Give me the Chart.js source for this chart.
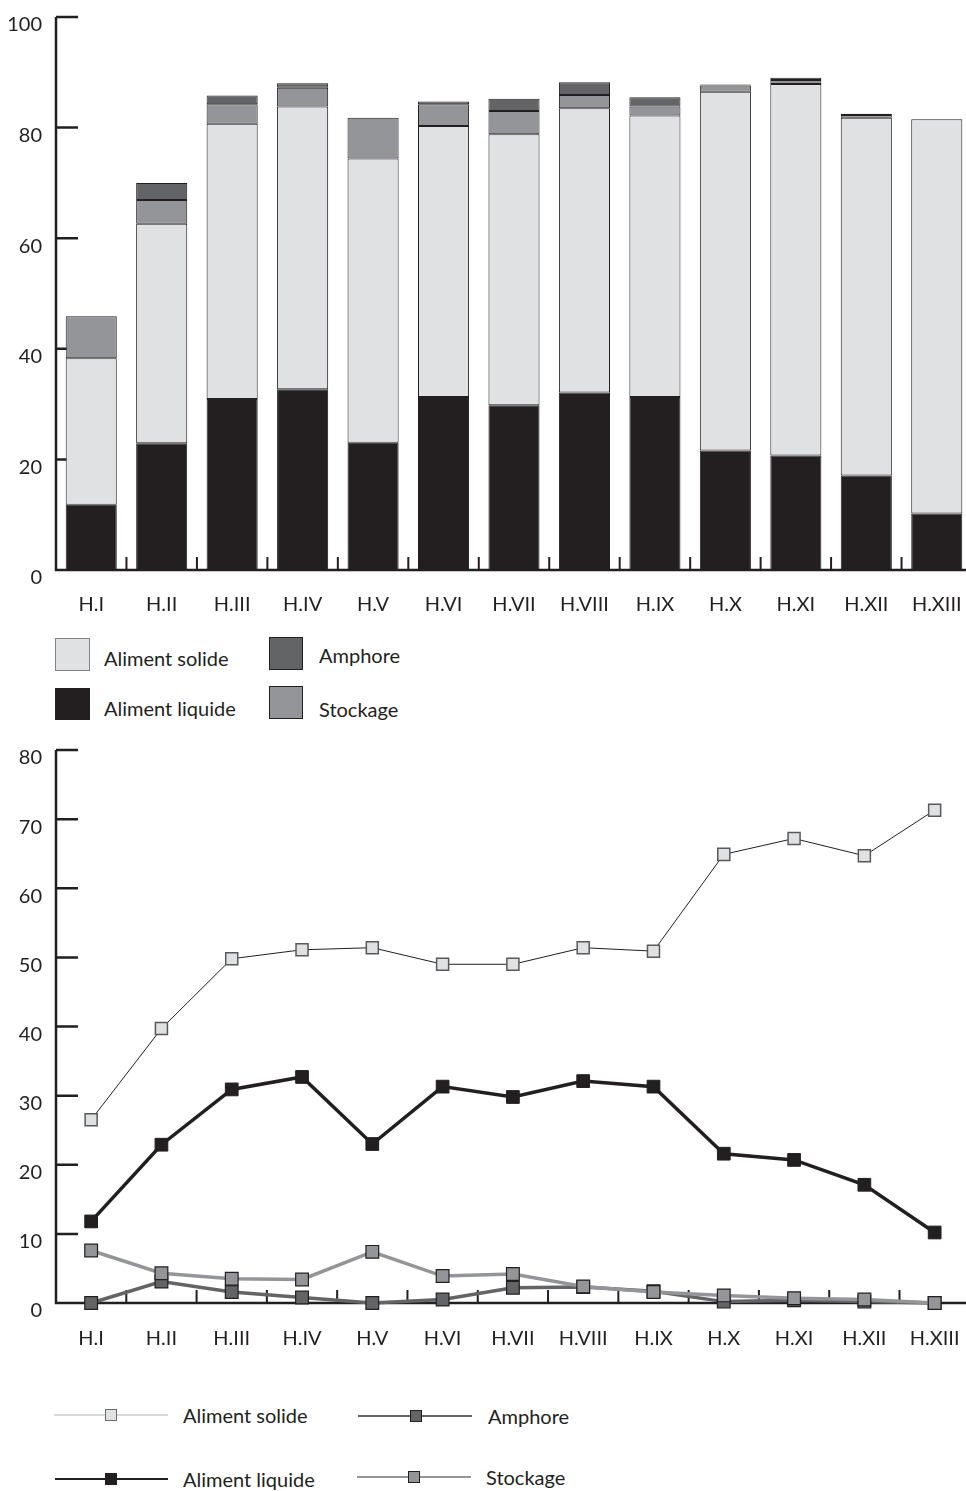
<!DOCTYPE html>
<html>
<head>
<meta charset="utf-8">
<script src="https://cdn.jsdelivr.net/npm/chart.js@4"></script>
<style>
  body { margin: 0; width: 966px; height: 1491px; overflow: hidden; background: #fff; font-family: Lato, "Open Sans", sans-serif; color: #231f20; }
  .wrap { position: absolute; left: 0; }
  .box { position: absolute; box-sizing: border-box; }
  .txt { position: absolute; font-size: 20px; transform: translateY(-50%); white-space: nowrap; }
  .ln { position: absolute; }
  .mk { position: absolute; width: 12px; height: 12px; box-sizing: border-box; border: 1px solid #231f20; transform: translate(-50%, -50%); }
</style>
</head>
<body>
<div class="wrap" style="top:0"><canvas id="barChart" width="980" height="630" style="width:980px;height:630px"></canvas></div>
<div class="wrap" style="top:730px"><canvas id="lineChart" width="980" height="630" style="width:980px;height:630px"></canvas></div>

<!-- legende du haut -->
<div class="box" style="left:55px;top:638px;width:35px;height:33px;background:#e0e1e3;border:1px solid #808285"></div>
<div class="txt" style="left:104px;top:658px">Aliment solide</div>
<div class="box" style="left:55px;top:688px;width:35px;height:32px;background:#231f20"></div>
<div class="txt" style="left:104px;top:708px">Aliment liquide</div>
<div class="box" style="left:269px;top:637px;width:34px;height:33px;background:#636466;border:1px solid #231f20"></div>
<div class="txt" style="left:319px;top:655px">Amphore</div>
<div class="box" style="left:269px;top:686px;width:34px;height:33px;background:#939598;border:1px solid #231f20"></div>
<div class="txt" style="left:319px;top:709px">Stockage</div>

<!-- legende du bas -->
<div class="ln" style="left:54px;top:1414px;width:114px;height:2px;background:#d8d9db"></div>
<div class="mk" style="left:111px;top:1415px;background:#e0e1e3;border-color:#6d6e71"></div>
<div class="txt" style="left:183px;top:1415px">Aliment solide</div>
<div class="ln" style="left:358px;top:1415px;width:114px;height:2px;background:#636466"></div>
<div class="mk" style="left:416px;top:1416px;background:#636466"></div>
<div class="txt" style="left:488px;top:1416px">Amphore</div>
<div class="ln" style="left:55px;top:1478px;width:113px;height:2px;background:#231f20"></div>
<div class="mk" style="left:111px;top:1479px;background:#231f20"></div>
<div class="txt" style="left:183px;top:1479px">Aliment liquide</div>
<div class="ln" style="left:357px;top:1476px;width:114px;height:2px;background:#939598"></div>
<div class="mk" style="left:414px;top:1477px;background:#939598"></div>
<div class="txt" style="left:486px;top:1477px">Stockage</div>

<script>
const labels = ["H.I", "H.II", "H.III", "H.IV", "H.V", "H.VI", "H.VII", "H.VIII", "H.IX", "H.X", "H.XI", "H.XII", "H.XIII"];
const liquide = [11.8, 22.9, 30.9, 32.7, 23.0, 31.3, 29.8, 32.1, 31.3, 21.6, 20.7, 17.1, 10.2];
const solide = [26.5, 39.7, 49.8, 51.1, 51.4, 49.0, 49.0, 51.4, 50.9, 64.9, 67.2, 64.7, 71.3];
const stockage = [7.6, 4.3, 3.5, 3.4, 7.4, 3.9, 4.2, 2.4, 1.6, 1.1, 0.7, 0.5, 0];
const amphore = [0, 3.1, 1.6, 0.8, 0, 0.5, 2.2, 2.3, 1.7, 0.2, 0.4, 0.2, 0];

const ink = "#231f20";
const font = { family: "Lato, 'Open Sans', sans-serif", size: 20 };

// axes dessines a la main : traits de graduation vers l'interieur
const axisTicks = {
  id: "axisTicks",
  beforeDatasetsDraw(chart) {
    const { ctx, chartArea } = chart;
    const x = chart.scales.x;
    const y = chart.scales.y;
    ctx.save();
    ctx.strokeStyle = ink;
    ctx.lineWidth = 2.5;
    ctx.beginPath();
    ctx.moveTo(chartArea.left, chartArea.top);
    ctx.lineTo(chartArea.left, chartArea.bottom);
    ctx.lineTo(chart.width, chartArea.bottom);
    y.ticks.forEach((t) => {
      const py = y.getPixelForValue(t.value);
      ctx.moveTo(chartArea.left, py);
      ctx.lineTo(chartArea.left + 22, py);
    });
    ctx.stroke();
    ctx.lineWidth = 2;
    ctx.beginPath();
    for (let i = 1; i < labels.length; i++) {
      const px = (x.getPixelForValue(i - 1) + x.getPixelForValue(i)) / 2;
      ctx.moveTo(px, chartArea.bottom);
      ctx.lineTo(px, chartArea.bottom - 13);
    }
    ctx.stroke();
    ctx.restore();
  },
};

function scalesFor(max, step, labelPad, axisH) {
  return {
    x: {
      offset: true,
      grid: { display: false, offset: true },
      border: { display: false },
      ticks: { color: ink, font: font, padding: labelPad, maxRotation: 0, autoSkip: false },
      afterFit: (s) => { s.height = axisH; },
    },
    y: {
      min: 0,
      max: max,
      grid: { display: false, drawTicks: false },
      border: { display: false },
      ticks: { color: ink, font: font, stepSize: step, padding: 14, labelOffset: 8 },
      afterFit: (s) => {
        s.width = 56;
        s.paddingTop = 0;
        s.paddingBottom = 0;
      },
    },
  };
}

const barScales = scalesFor(100, 20, 15, 60);
barScales.x.stacked = true;
barScales.y.stacked = true;

new Chart(document.getElementById("barChart"), {
  type: "bar",
  data: {
    labels: labels,
    datasets: [
      { label: "Aliment liquide", data: liquide, backgroundColor: "#231f20" },
      { label: "Aliment solide", data: solide, backgroundColor: "#e0e1e3" },
      { label: "Stockage", data: stockage, backgroundColor: "#939598" },
      { label: "Amphore", data: amphore, backgroundColor: "#636466" },
    ].map((d) => Object.assign(d, {
      borderColor: ink,
      borderWidth: 1,
      borderSkipped: false,
      categoryPercentage: 1,
      barPercentage: 0.725,
    })),
  },
  options: {
    responsive: false,
    animation: false,
    layout: { padding: { top: 17, right: 8, bottom: 0, left: 0 } },
    plugins: { legend: { display: false }, tooltip: { enabled: false } },
    scales: barScales,
  },
  plugins: [axisTicks],
});

new Chart(document.getElementById("lineChart"), {
  type: "line",
  data: {
    labels: labels,
    datasets: [
      {
        label: "Aliment solide", data: solide,
        borderColor: ink, borderWidth: 1,
        pointBackgroundColor: "#e0e1e3", pointBorderColor: "#58595b", pointBorderWidth: 1.5,
        pointRadius: 8.5,
      },
      {
        label: "Aliment liquide", data: liquide,
        borderColor: ink, borderWidth: 3.5,
        pointBackgroundColor: ink, pointBorderColor: ink, pointBorderWidth: 1,
        pointRadius: 9,
      },
      {
        label: "Stockage", data: stockage,
        borderColor: "#939598", borderWidth: 3.5,
        pointBackgroundColor: "#939598", pointBorderColor: ink, pointBorderWidth: 1.2,
        pointRadius: 9,
      },
      {
        label: "Amphore", data: amphore,
        borderColor: "#636466", borderWidth: 3.5,
        pointBackgroundColor: "#636466", pointBorderColor: ink, pointBorderWidth: 1.2,
        pointRadius: 9,
      },
    ].map((d) => Object.assign(d, { pointStyle: "rect", tension: 0, clip: false, fill: false })),
  },
  options: {
    responsive: false,
    animation: false,
    layout: { padding: { top: 20, right: 8, bottom: 0, left: 0 } },
    plugins: { legend: { display: false }, tooltip: { enabled: false } },
    scales: scalesFor(80, 10, 16, 57),
  },
  plugins: [axisTicks],
});
</script>
</body>
</html>
